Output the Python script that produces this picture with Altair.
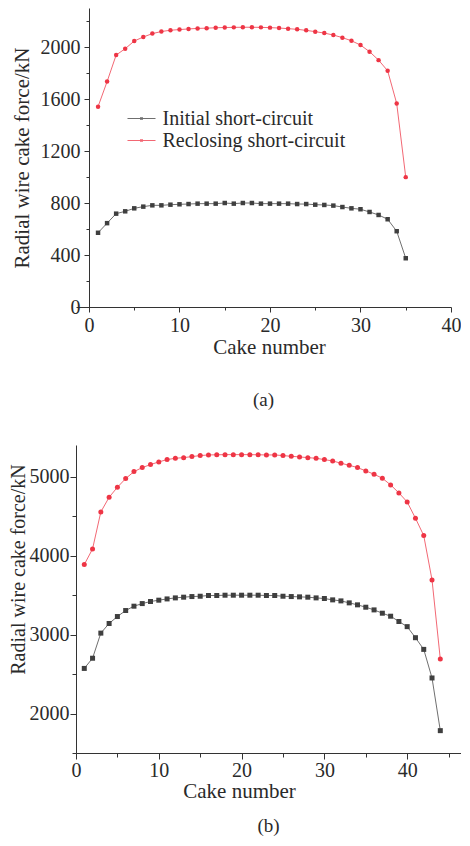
import altair as alt
import pandas as pd

SERIES = ["Initial short-circuit", "Reclosing short-circuit"]
COLORS = ["#3f3f3f", "#ee3545"]
SHAPES = ["square", "circle"]
FONT = "Liberation Serif"
TEXT = "#2a2a2a"

# ---- panel (a) ----
cakes_a = list(range(1, 36))
initial_a = [571, 645, 718, 736, 759, 772, 782, 782, 787, 790, 792, 795, 795, 795, 800,
             795, 800, 800, 795, 795, 795, 795, 792, 792, 787, 785, 780, 769, 759, 752,
             731, 708, 675, 583, 375]
reclosing_a = [1541, 1734, 1938, 1987, 2046, 2077, 2103, 2119, 2129, 2134, 2139, 2143,
               2145, 2148, 2150, 2151, 2152, 2152, 2151, 2149, 2146, 2141, 2136, 2128,
               2118, 2107, 2092, 2072, 2048, 2015, 1964, 1899, 1817, 1566, 999]

# ---- panel (b) ----
cakes_b = list(range(1, 45))
initial_b = [2571, 2700, 3018, 3140, 3228, 3304, 3359, 3392, 3418, 3435, 3451, 3464,
             3473, 3481, 3485, 3494, 3494, 3498, 3498, 3498, 3498, 3498, 3494, 3494,
             3485, 3481, 3477, 3473, 3464, 3456, 3439, 3426, 3401, 3376, 3346, 3312,
             3270, 3232, 3165, 3100, 2960, 2812, 2450, 1783]
reclosing_b = [3886, 4084, 4553, 4738, 4865, 4975, 5063, 5114, 5152, 5186, 5215, 5232,
               5240, 5253, 5266, 5274, 5276, 5278, 5278, 5278, 5278, 5276, 5274, 5274,
               5266, 5257, 5249, 5240, 5232, 5215, 5198, 5169, 5143, 5114, 5072, 5030,
               4979, 4895, 4793, 4679, 4473, 4253, 3692, 2690]

X_TITLE = "Cake number"
Y_TITLE = "Radial wire cake force/kN"


def legend_path(line_len, half_sym):
    a = (line_len / 2) / half_sym
    m = 1.5 / half_sym
    d = 0.75 / half_sym
    return (f"M{-a:.3f},0H{a:.3f}M{-m:.3f},{-d:.3f}H{m:.3f}M{-m:.3f},{d:.3f}H{m:.3f}")


def panel(cakes, init, recl, cfg):
    df = pd.DataFrame({
        "cake": cakes + cakes,
        "force": init + recl,
        "series": [SERIES[0]] * len(cakes) + [SERIES[1]] * len(cakes),
    })
    xmaj, xmin_ = cfg["xmajor"], cfg["xminor"]
    ymaj, ymin_ = cfg["ymajor"], cfg["yminor"]
    xvals = list(range(0, int(cfg["xdom"][1]) + 1, xmin_))
    yvals = list(range(int(cfg["ydom"][0]), int(cfg["ydom"][1]) + 1, ymin_))
    yaxis_extra = {}
    if cfg.get("ytitleY") is not None:
        yaxis_extra["titleY"] = cfg["ytitleY"]
    x = alt.X("cake:Q",
              scale=alt.Scale(domain=cfg["xdom"], nice=False, zero=False),
              axis=alt.Axis(values=xvals, format="d", title=X_TITLE,
                            labelExpr=f"datum.value % {xmaj} === 0 ? datum.label : ''",
                            tickSize={"condition": {"test": f"datum.value % {xmaj} === 0",
                                                    "value": cfg["tmaj"]},
                                      "value": cfg["tmin"]},
                            labelFont=FONT, titleFont=FONT, labelFontSize=20,
                            titleFontSize=21, titleFontWeight="normal",
                            labelColor=TEXT, titleColor=TEXT, titleX=cfg["xtitleX"],
                            labelPadding=cfg["xlp"], titlePadding=cfg["xtp"],
                            labelFlush=False, labelOverlap=False, grid=False))
    y = alt.Y("force:Q",
              scale=alt.Scale(domain=cfg["ydom"], nice=False, zero=False),
              axis=alt.Axis(values=yvals, format="d", title=Y_TITLE,
                            labelExpr=f"datum.value % {ymaj} === 0 ? datum.label : ''",
                            tickSize={"condition": {"test": f"datum.value % {ymaj} === 0",
                                                    "value": cfg["tmaj"]},
                                      "value": cfg["tmin"]},
                            labelFont=FONT, titleFont=FONT, labelFontSize=20,
                            titleFontSize=cfg["ytfs"], titleFontWeight="normal",
                            labelColor=TEXT, titleColor=TEXT, offset=cfg["yoff"],
                            labelPadding=cfg["ylp"], titlePadding=cfg["ytp"],
                            labelOverlap=False, grid=False, **yaxis_extra))
    cscale = alt.Scale(domain=SERIES, range=COLORS)
    leg = alt.Legend(orient="none", legendX=cfg["lx"], legendY=cfg["ly"], title=None,
                     symbolType=legend_path(cfg["llen"], 7), symbolSize=196,
                     symbolStrokeWidth=1.2, labelFont=FONT, labelFontSize=cfg["lfs"],
                     labelColor=TEXT, labelOffset=cfg["loff"], rowPadding=cfg["lrow"],
                     padding=0, labelLimit=400)
    line = alt.Chart(df).mark_line(strokeWidth=1, opacity=0.75).encode(
        x=x, y=y, color=alt.Color("series:N", scale=cscale, legend=leg))
    layers = [line]
    for s, shp in zip(SERIES, SHAPES):
        layers.append(
            alt.Chart(df).transform_filter(alt.datum.series == s)
            .mark_point(filled=True, opacity=1, size=cfg["msize"], shape=shp)
            .encode(x=x, y=y, color=alt.Color("series:N", scale=cscale, legend=None))
        )
    return alt.layer(*layers).properties(
        width=cfg["w"], height=cfg["h"],
        title=alt.TitleParams(cfg["caption"], orient="bottom", anchor="middle",
                              offset=cfg["coff"], font=FONT, fontSize=19,
                              fontWeight="normal", color=TEXT))


cfg_a = dict(xdom=[-1.436, 40], ydom=[0, 2300], xmajor=10, xminor=5, ymajor=400, yminor=200,
             tmaj=5, tmin=3, xlp=3, xtp=1, xtitleX=193, ylp=4, ytp=8, ytfs=21, yoff=-13,
             w=375, h=299, lx=55.5, ly=100.5, llen=28, lfs=20, loff=11, lrow=2, msize=20,
             caption="(a)", coff=34)
cfg_b = dict(xdom=[0, 46.5], ydom=[1500, 5400], xmajor=10, xminor=5, ymajor=1000, yminor=500,
             tmaj=6, tmin=4, xlp=1, xtp=0, xtitleX=163, ylp=1, ytp=1, ytfs=20, yoff=0,
             ytitleY=124, w=385, h=308, lx=77, ly=65, llen=24, lfs=18.5, loff=11,
             lrow=2.5, msize=25, caption="(b)", coff=16)

chart_a = panel(cakes_a, initial_a, reclosing_a, cfg_a)
chart_b = panel(cakes_b, initial_b, reclosing_b, cfg_b)

chart = alt.vconcat(chart_a, chart_b, spacing=35).properties(
    padding=0
).configure_view(stroke=None).configure_axis(
    domainColor="#333333", tickColor="#333333", domainWidth=1, tickWidth=1
)

chart.save("out.html", embed_options={"renderer": "svg", "actions": False})
